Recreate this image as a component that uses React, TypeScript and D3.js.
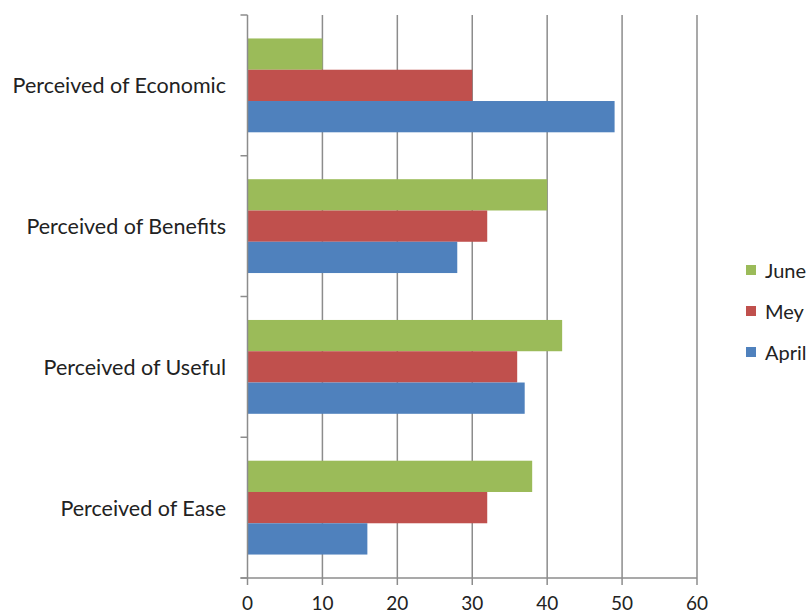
import React from "react";
import * as d3 from "d3";

const categories = ["Perceived of Economic", "Perceived of Benefits", "Perceived of Useful", "Perceived of Ease"];
const seriesNames = ["June", "Mey", "April"];
const june = [10, 40, 42, 38];
const mey = [30, 32, 36, 32];
const april = [49, 28, 37, 16];
const xTicks = [0, 10, 20, 30, 40, 50, 60];
const colors = ["#9BBB59", "#C0504D", "#4F81BD"];

export default function App() {
  const W = 811, H = 615;
  const left = 247.5, right = 697, top = 15, bottom = 578;
  const x = d3.scaleLinear().domain([0, 60]).range([left, right]);
  const y = d3.scaleBand().domain(categories).range([top, bottom]).paddingInner(0).paddingOuter(0);
  const inner = d3.scaleBand().domain(seriesNames).range([0, y.bandwidth()]).paddingInner(0).paddingOuter(0.75);
  const series = [june, mey, april];
  const font = "Lato, 'Open Sans', sans-serif";
  const yTicks = [top, ...categories.map((c) => (y(c) as number) + y.bandwidth())];
  return (
    <svg width={W} height={H} style={{ position: "absolute", left: 0, top: 0 }} fontFamily={font}>
      <rect width={W} height={H} fill="#fff" />
      {xTicks.slice(1).map((t) => (
        <line key={"g" + t} x1={x(t)} x2={x(t)} y1={top} y2={bottom} stroke="#8c8c8c" strokeWidth={1.5} />
      ))}
      {categories.map((c, ci) =>
        series.map((s, si) => (
          <rect
            key={c + si}
            x={x(0)}
            y={(y(c) as number) + (inner(seriesNames[si]) as number)}
            width={x(s[ci]) - x(0)}
            height={inner.bandwidth()}
            fill={colors[si]}
          />
        ))
      )}
      <line x1={left} x2={left} y1={top} y2={bottom} stroke="#8c8c8c" strokeWidth={1.5} />
      {yTicks.map((t, i) => (
        <line key={"yt" + i} x1={left - 7} x2={left} y1={t} y2={t} stroke="#8c8c8c" strokeWidth={1.5} />
      ))}
      <line x1={left - 7} x2={right} y1={bottom} y2={bottom} stroke="#8c8c8c" strokeWidth={1.5} />
      {xTicks.map((t) => (
        <g key={"xt" + t}>
          <line x1={x(t)} x2={x(t)} y1={bottom} y2={bottom + 7} stroke="#8c8c8c" strokeWidth={1.5} />
          <text x={x(t)} y={610} textAnchor="middle" fontSize={19} fill="#222">{t}</text>
        </g>
      ))}
      {categories.map((c) => (
        <text key={"l" + c} x={226} y={(y(c) as number) + y.bandwidth() / 2} textAnchor="end" dominantBaseline="central" fontSize={21.5} fill="#222">
          {c}
        </text>
      ))}
      {seriesNames.map((n, i) => (
        <g key={"lg" + n} transform={`translate(746, ${270 + i * 41})`}>
          <rect x={0} y={-5} width={10} height={10} fill={colors[i]} />
          <text x={19} y={0} dominantBaseline="central" fontSize={20} fill="#222">{n}</text>
        </g>
      ))}
    </svg>
  );
}
